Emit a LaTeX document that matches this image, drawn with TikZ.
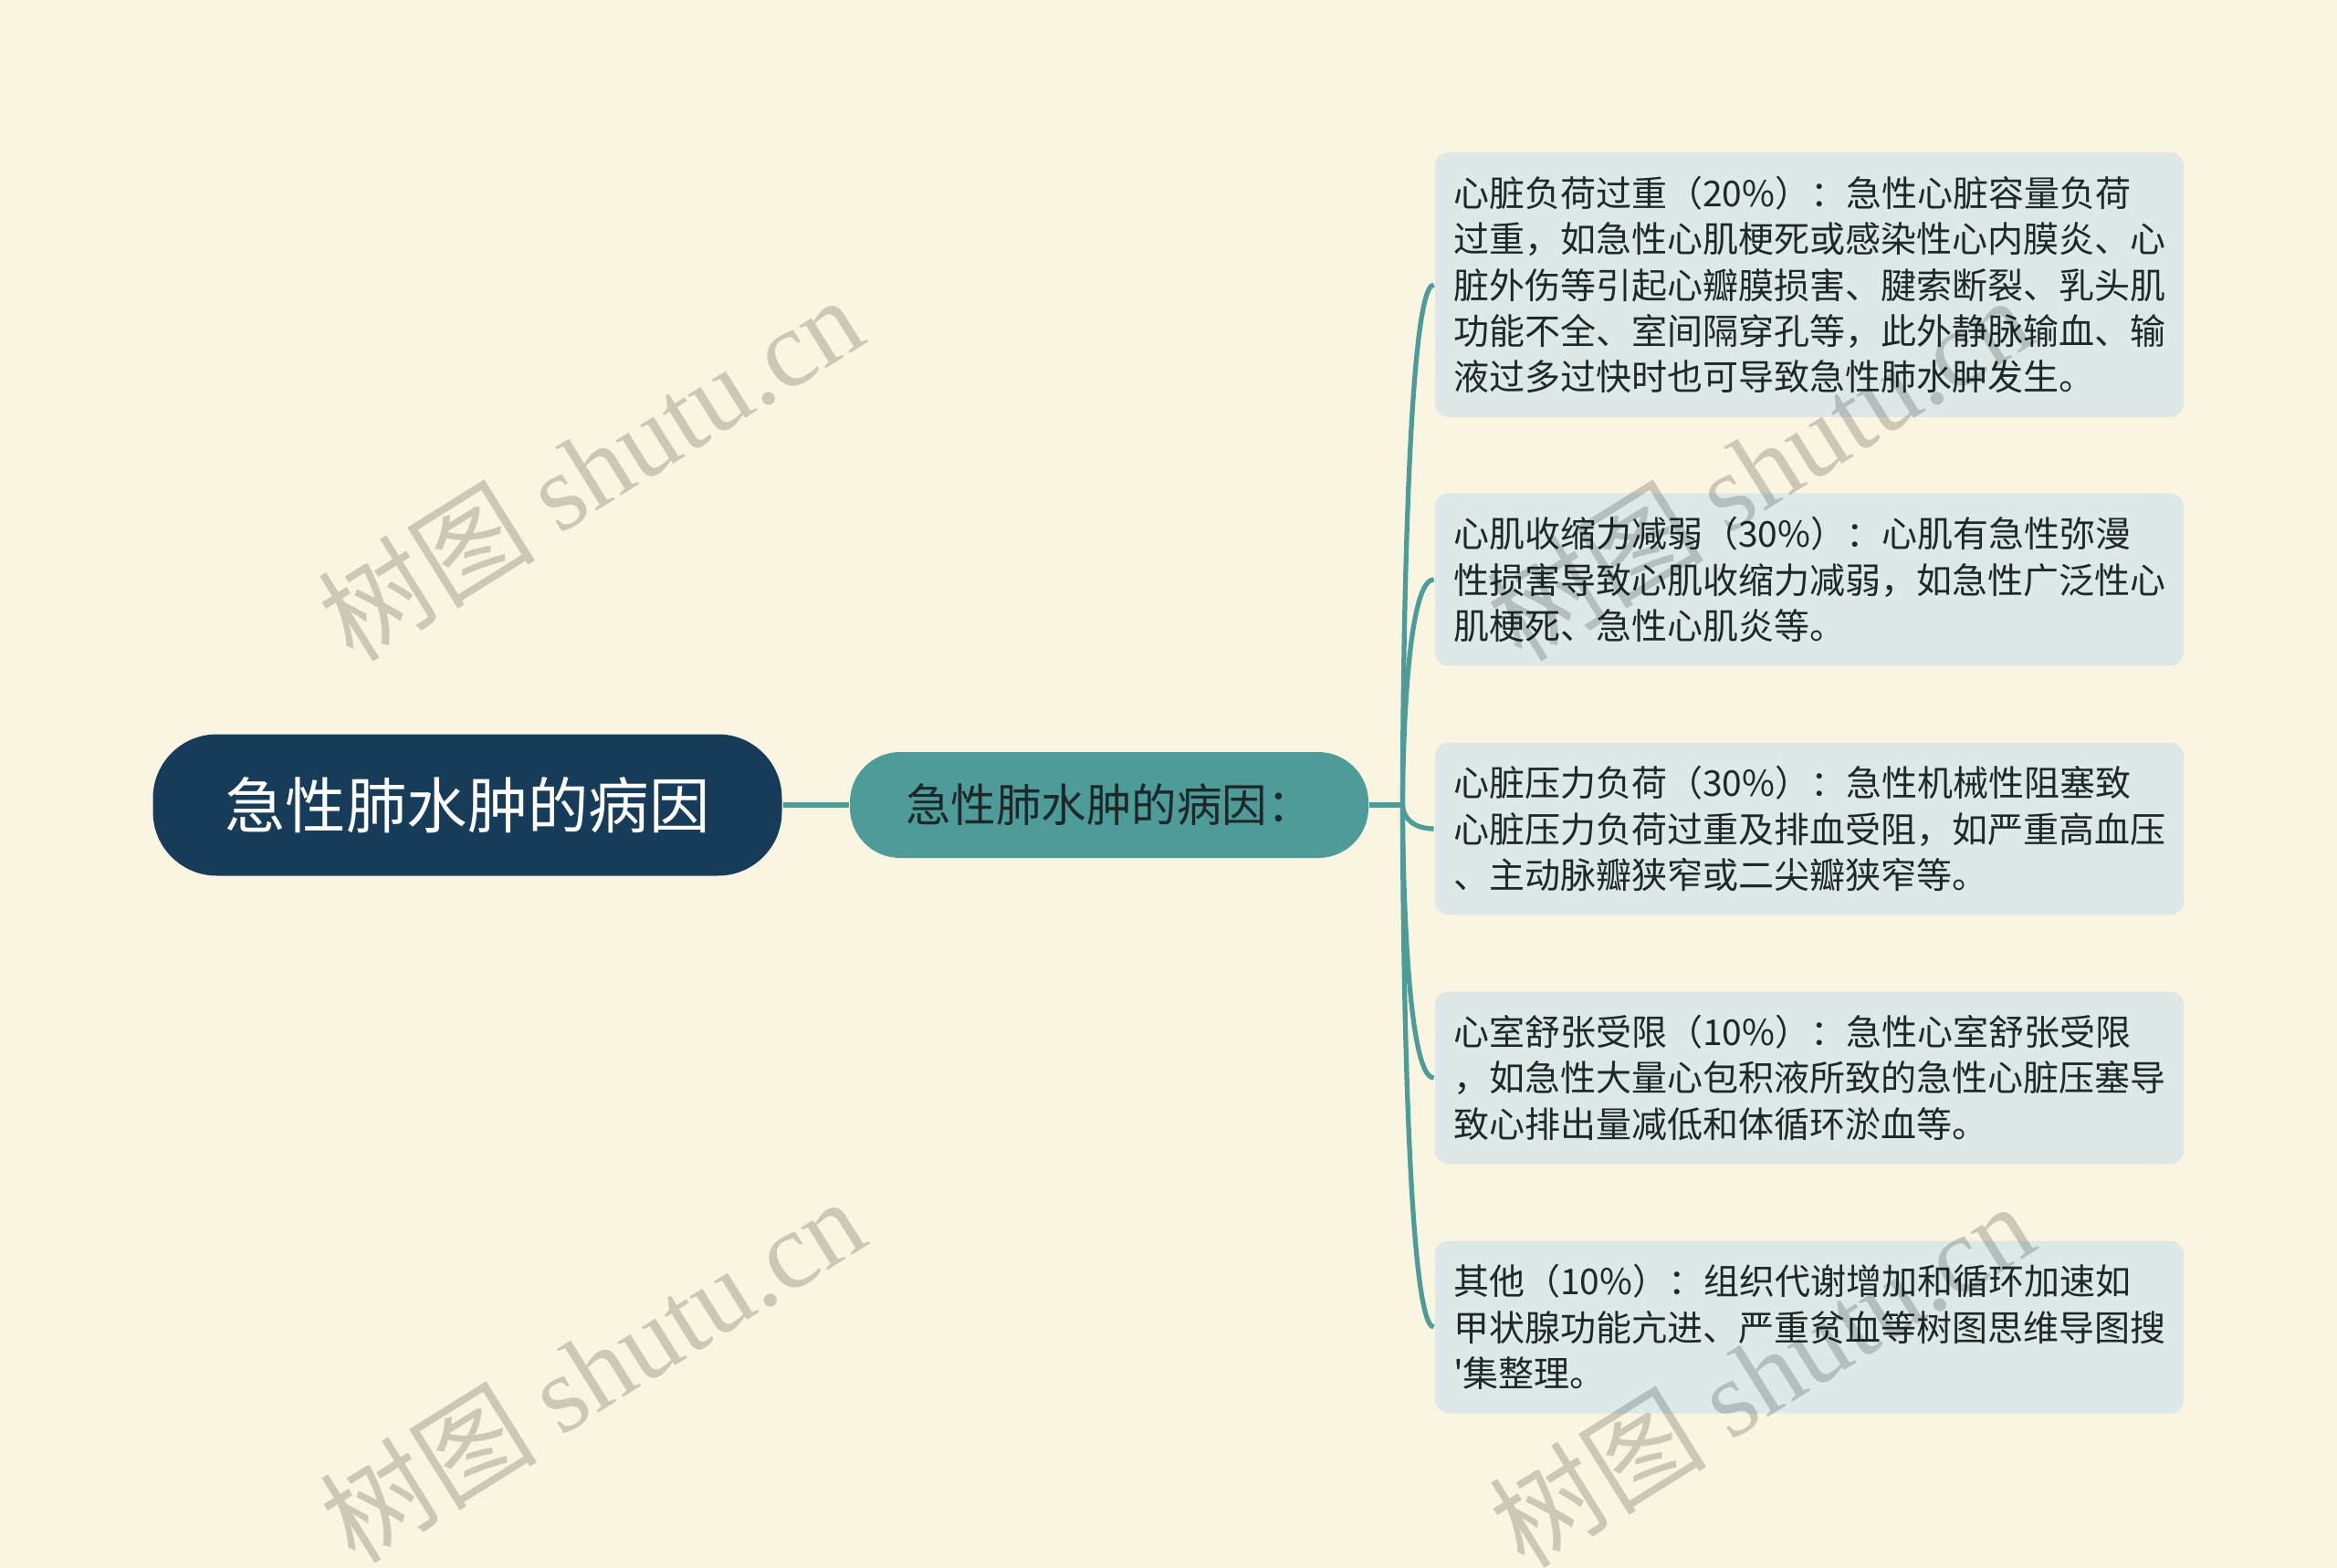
\documentclass[tikz,border=0pt]{standalone}
\usepackage{fontspec}
\setmainfont{Noto Sans CJK SC}
\newfontfamily\wmfont{Liberation Serif}
\usepackage{tikz}
\usetikzlibrary{backgrounds}

\definecolor{bgcream}{HTML}{FAF5E0}
\definecolor{rootblue}{HTML}{173C5A}
\definecolor{branchteal}{HTML}{4E9C9A}
\definecolor{leafbg}{HTML}{DCE9E8}
\definecolor{inktext}{HTML}{1E2828}

\begin{document}
\begin{tikzpicture}[auto,node distance=2.73cm,thick,baseline=0]
			\tikzstyle{every node}=[text=inktext,inner sep=0pt]
			\tikzstyle{leaf}=[fill=leafbg,rounded corners=0.15cm,text width=7.8cm,inner xsep=0.2cm,minimum height=1.89cm,align=left,font=\fontsize{11.1pt}{14.3pt}\selectfont]
			\tikzstyle{branch}=[draw=branchteal,line width=1.5pt]
			\tikzstyle{watermark}=[rotate=32,text=black,opacity=0.18,font=\fontsize{34pt}{38pt}\selectfont]
			
			\fill[bgcream] (0,0) rectangle (25.6,-17.18);
			\useasboundingbox (0,0) rectangle (25.6,-17.18);
			
			\node         (root) [fill=rootblue,text=white,rounded corners=0.7cm,minimum width=6.89cm,minimum height=1.55cm,font=\fontsize{18.9pt}{22pt}\selectfont] at (5.12,-8.82) {急性肺水肿的病因};
			\node         (cause) [right of=root,node distance=7.03cm,fill=branchteal,rounded corners=0.55cm,minimum width=5.68cm,minimum height=1.16cm,font=\fontsize{14.1pt}{17pt}\selectfont] {急性肺水肿的病因：};
			
			\node         (1) [leaf,minimum height=2.9cm] at (19.82,-3.12) {心脏负荷过重（20\%）：急性心脏容量负荷\\过重，如急性心肌梗死或感染性心内膜炎、心\\脏外伤等引起心瓣膜损害、腱索断裂、乳头肌\\功能不全、室间隔穿孔等，此外静脉输血、输\\液过多过快时也可导致急性肺水肿发生。};
			\node         (2) [leaf,below of=1,node distance=3.23cm] {心肌收缩力减弱（30\%）：心肌有急性弥漫\\性损害导致心肌收缩力减弱，如急性广泛性心\\肌梗死、急性心肌炎等。};
			\node         (3) [leaf,below of=2] {心脏压力负荷（30\%）：急性机械性阻塞致\\心脏压力负荷过重及排血受阻，如严重高血压\\、主动脉瓣狭窄或二尖瓣狭窄等。};
			\node         (4) [leaf,below of=3] {心室舒张受限（10\%）：急性心室舒张受限\\，如急性大量心包积液所致的急性心脏压塞导\\致心排出量减低和体循环淤血等。};
			\node         (5) [leaf,below of=4] {其他（10\%）：组织代谢增加和循环加速如\\甲状腺功能亢进、严重贫血等树图思维导图搜\\\textquotesingle 集整理。};
			
			\coordinate   (fork) at ([xshift=0.36cm]cause.east);
			\draw[branch,line width=1.6pt] (root) -- (cause);
			\draw[branch,line width=1.6pt] (cause) -- (fork);
			\foreach \n in {1,...,5}
				\draw[branch] (fork) .. controls (fork) and (fork |- \n.west) .. (\n.west);
			
			\node         (wm1) [watermark] at (6.46,-5.12) {树图 {\wmfont shutu.cn}};
			\node         (wm2) [watermark] at (6.48,-15.0) {树图 {\wmfont shutu.cn}};
			\node         (wm3) [watermark] at (19.26,-5.12) {树图 {\wmfont shutu.cn}};
			\node         (wm4) [watermark] at (19.29,-15.05) {树图 {\wmfont shutu.cn}};
			\end{tikzpicture}
\end{document}
